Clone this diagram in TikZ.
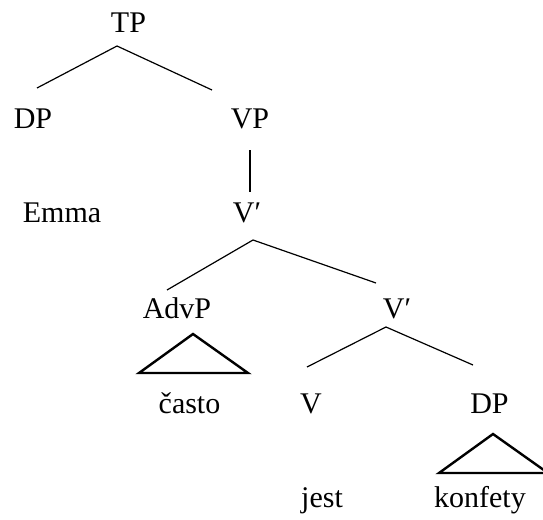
\documentclass[tikz,border=0pt]{standalone}
\usepackage{fontspec}
\setmainfont{Liberation Serif}
\begin{document}
\begin{tikzpicture}[x=1pt,y=-1pt,
  lab/.style={anchor=base,inner sep=0pt,font=\fontsize{30}{34}\selectfont},
  edge/.style={line width=1.2pt},
  tri/.style={line width=2.4pt,line join=miter}]
\useasboundingbox (0,0) rectangle (543,519);
\clip (0,0) rectangle (543,519);
% nodes
\node[lab] (TP) at (128.5,33) {TP};
\node[lab] (DP1) at (33,128) {DP};
\node[lab] (VP) at (250,128) {VP};
\node[lab] (Emma) at (62,222) {Emma};
\node[lab] (Vbar1) at (247,222) {V′};
\node[lab] (AdvP) at (177,318) {AdvP};
\node[lab] (Vbar2) at (397,318) {V′};
\node[lab] (casto) at (189.5,413) {často};
\node[lab] (V) at (311,413) {V};
\node[lab] (DP2) at (489.5,413) {DP};
\node[lab] (jest) at (322,507) {jest};
\node[lab] (konfety) at (480,507) {konfety};
% connector end points
\coordinate (TPb) at (117,46);
\coordinate (DP1t) at (37,88);
\coordinate (VPt) at (212,90);
\coordinate (VPb) at (250,150);
\coordinate (Vbar1t) at (250,192);
\coordinate (Vbar1b) at (253,240);
\coordinate (AdvPt) at (167,290);
\coordinate (Vbar2t) at (376,283);
\coordinate (Vbar2b) at (386,327);
\coordinate (Vt) at (307,367);
\coordinate (DP2t) at (473,365);
% edges
\draw[edge] (TPb) -- (DP1t);
\draw[edge] (TPb) -- (VPt);
\draw[edge] (VPb) -- (Vbar1t);
\draw[edge] (Vbar1b) -- (AdvPt);
\draw[edge] (Vbar1b) -- (Vbar2t);
\draw[edge] (Vbar2b) -- (Vt);
\draw[edge] (Vbar2b) -- (DP2t);
% triangles
\draw[tri] (193,334) -- (139,373) -- (248,373) -- cycle;
\draw[tri] (493,434) -- (439,473) -- (548,473) -- cycle;
\end{tikzpicture}
\end{document}
